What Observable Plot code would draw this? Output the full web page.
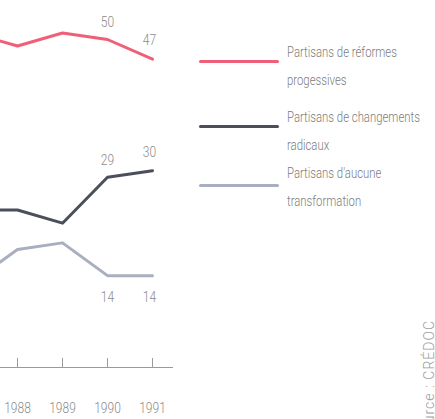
<!DOCTYPE html>
<html>
<head>
<meta charset="utf-8">
<script src="https://cdn.jsdelivr.net/npm/d3@7"></script>
<script src="https://cdn.jsdelivr.net/npm/@observablehq/plot@0.6"></script>
<style>
  html, body { margin: 0; padding: 0; background: #fff; overflow: hidden; }
  #wrap { position: relative; width: 435px; height: 419px; overflow: hidden; font-family: Roboto, "Liberation Sans", sans-serif; }
  .leg-line { position: absolute; left: 199px; width: 80px; height: 3px; border-radius: 2px; }
  .leg-text { position: absolute; left: 287px; font-size: 14px; font-weight: 300; line-height: 28px; color: #7d7d7d; white-space: nowrap; transform: scaleX(0.81); transform-origin: 0 0; }
  #source { position: absolute; left: 421px; top: 320px; writing-mode: vertical-rl; transform: rotate(180deg); font-size: 14px; font-weight: 300; letter-spacing: 1px; color: #9d9d9d; white-space: nowrap; line-height: 16px; }
</style>
</head>
<body>
<div id="wrap"></div>
<script>
const years = [1987, 1988, 1989, 1990, 1991];
const reformes = [51, 49, 51, 50, 47];
const radicaux = [24, 24, 22, 29, 30];
const aucune = [13, 18, 19, 14, 14];
const seriesNames = ["Partisans de réformes progessives", "Partisans de changements radicaux", "Partisans d'aucune transformation"];
const legendLines = [["Partisans de réformes", "progessives"], ["Partisans de changements", "radicaux"], ["Partisans d'aucune", "transformation"]];
const tickYears = [1988, 1989, 1990, 1991];
const labelYears = [1990, 1991];
const sourceText = "Source : CRÉDOC";

const colors = ["#ef5f78", "#4b4f5b", "#a9aec0"];
const seriesValues = [reformes, radicaux, aucune];

const table = [];
seriesValues.forEach((vals, i) => {
  years.forEach((yr, j) => table.push({year: yr, value: vals[j], series: seriesNames[i], idx: i}));
});
const labels = table.filter(d => labelYears.includes(d.year));
const above = labels.filter(d => d.idx < 2);
const below = labels.filter(d => d.idx === 2);
const txt = {fill: "#8a8a8a", fontSize: 15, fontWeight: 300};

const chart = Plot.plot({
  width: 435,
  height: 419,
  marginLeft: 0,
  marginRight: 262,
  marginTop: 39,
  marginBottom: 52,
  style: {fontFamily: "Roboto, 'Liberation Sans', sans-serif", background: "transparent"},
  x: {domain: [1987.622, 1991.467], label: null},
  y: {domain: [0, 50], axis: null},
  color: {domain: seriesNames, range: colors},
  marks: [
    Plot.ruleY([0], {stroke: "#9a9a9a", strokeWidth: 1}),
    Plot.axisX(tickYears, {tickSize: -9, tickPadding: 44, tickFormat: d => String(d), stroke: "#9a9a9a", label: null, ...txt}),
    Plot.line(table, {x: "year", y: "value", z: "series", stroke: "series", strokeWidth: 3}),
    Plot.text(above.filter(d => d.year === 1990), {x: "year", y: "value", text: d => String(d.value), dy: -17, ...txt}),
    Plot.text(above.filter(d => d.year === 1991), {x: "year", y: "value", text: d => String(d.value), dy: -19, dx: -3, ...txt}),
    Plot.text(below.filter(d => d.year === 1990), {x: "year", y: "value", text: d => String(d.value), dy: 22, ...txt}),
    Plot.text(below.filter(d => d.year === 1991), {x: "year", y: "value", text: d => String(d.value), dy: 22, dx: -3, ...txt})
  ]
});
const wrap = document.getElementById("wrap");
chart.style.position = "absolute";
chart.style.left = "0px";
chart.style.top = "0px";
wrap.appendChild(chart);

// condense the chart's text like the original's narrow typeface
chart.querySelectorAll("text").forEach(t => {
  const len = t.getComputedTextLength();
  if (len > 0) {
    t.setAttribute("textLength", (len * 0.8).toFixed(2));
    t.setAttribute("lengthAdjust", "spacingAndGlyphs");
  }
});

// legend
const swatchTops = [60, 125, 184];
const textTops = [38, 103, 159];
legendLines.forEach((lines, i) => {
  const l = document.createElement("div");
  l.className = "leg-line";
  l.style.top = swatchTops[i] + "px";
  l.style.background = colors[i];
  wrap.appendChild(l);
  const t = document.createElement("div");
  t.className = "leg-text";
  t.style.top = textTops[i] + "px";
  t.innerHTML = lines.join("<br>");
  wrap.appendChild(t);
});
const s = document.createElement("div");
s.id = "source";
s.textContent = sourceText;
wrap.appendChild(s);
</script>
</body>
</html>
